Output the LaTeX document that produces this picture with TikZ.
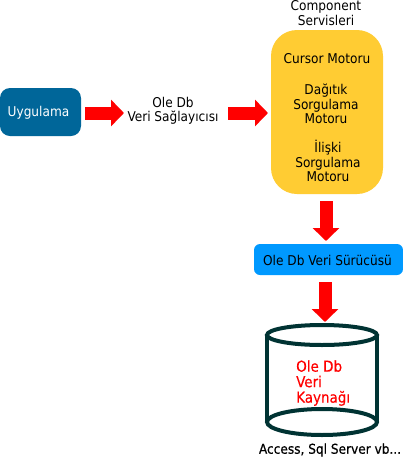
\documentclass[tikz,border=0pt]{standalone}
\usepackage{fontspec}
\setmainfont{DejaVu Sans Condensed}
\usetikzlibrary{arrows.meta}
\definecolor{appblue}{HTML}{006699}
\definecolor{compyellow}{HTML}{FFCC33}
\definecolor{drvblue}{HTML}{0099FF}
\definecolor{dbline}{HTML}{003333}
\newcommand{\lblfont}{\fontsize{13.5}{14.3}\selectfont}
\tikzset{
  x=1pt,y=-1pt,
  lbl/.style={inner sep=0pt,align=center,font=\lblfont},
  blockh/.style={draw=red,line width=13pt,-{Triangle[length=13pt,width=26pt,fill=red]}},
  dbedge/.style={draw=dbline,line width=4pt}
}
\begin{document}
\begin{tikzpicture}
\useasboundingbox (0,0) rectangle (403,459);
\fill[white] (0,0) rectangle (403,459);
\node[fill=appblue,rounded corners=10pt,minimum width=81pt,minimum height=48pt,inner sep=0pt] (app) at (40.5,112) {};
\node[lbl,text=white] (applbl) at (38.5,113) {Uygulama};
\node[lbl] (prov) at (173,111) {Ole Db\\Veri Sağlayıcısı};
\node[fill=compyellow,rounded corners=26pt,minimum width=112pt,minimum height=164pt,inner sep=0pt] (comp) at (327,112) {};
\node[lbl] (title) at (326,13) {Component\\Servisleri};
\node[lbl] (cursor) at (327,59) {Cursor Motoru};
\node[lbl] (dist) at (326,104) {Dağıtık\\Sorgulama\\Motoru};
\node[lbl] (rel) at (328,161) {İlişki\\Sorgulama\\Motoru};
\node[fill=drvblue,rounded corners=6pt,minimum width=149pt,minimum height=31pt,inner sep=0pt] (drv) at (328.5,259.5) {};
\node[lbl] (drvlbl) at (327.5,260) {Ole Db Veri Sürücüsü};
% database cylinder
\draw[dbedge] (267,335) -- (267,422) (377,335) -- (377,422);
\draw[dbedge,fill=white] (322,335) ellipse [x radius=55,y radius=10];
\draw[dbedge] (322,422) ellipse [x radius=55,y radius=13];
\node[inner sep=0pt,align=left,text=red,font=\fontsize{15}{15.5}\selectfont,anchor=west] (src) at (296,383) {\addfontfeatures{FakeBold=0.3}Ole Db\\\addfontfeatures{FakeBold=0.3}Veri\\\addfontfeatures{FakeBold=0.3}Kaynağı};
\node[lbl] (note) at (330,450) {\addfontfeatures{FakeBold=0.5}Access, Sql Server vb...};
% free ends of the block arrows
\coordinate (provin) at (124,113);
\coordinate (provout) at (228,113);
\coordinate (compin) at (268,113);
\coordinate (compout) at (326,201);
\coordinate (drvin) at (326,241);
\coordinate (drvout) at (325,282);
\coordinate (dbin) at (325,322);
% block arrows
\draw[blockh] (app.east |- provin) ++(4,0) -- (provin);
\draw[blockh] (provout) -- (compin);
\draw[blockh] (compout) -- (drvin);
\draw[blockh] (drvout) -- (dbin);
\end{tikzpicture}
\end{document}
